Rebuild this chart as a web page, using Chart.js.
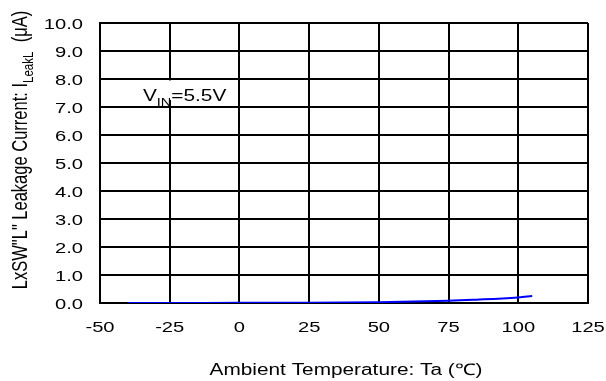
<!DOCTYPE html>
<html>
<head>
<meta charset="utf-8">
<script src="https://cdn.jsdelivr.net/npm/chart.js@4.4.0/dist/chart.umd.min.js"></script>
<style>
  html, body { margin: 0; padding: 0; background: #fff; }
  #wrap { width: 606px; height: 381px; position: relative; }
</style>
</head>
<body>
<div id="wrap"><canvas id="leak-chart"></canvas></div>
<script>
// temperature (°C) and leakage current (µA)
const temps = [-40, -25, 0, 25, 50, 75, 85, 100, 105];
const leakage = [0.0, 0.0, 0.005, 0.01, 0.03, 0.08, 0.12, 0.2, 0.25];
const xTicks = [-50, -25, 0, 25, 50, 75, 100, 125];
const yTicks = [0, 1, 2, 3, 4, 5, 6, 7, 8, 9, 10];

const FONT = "'Liberation Sans', Arial, sans-serif";
const WIDE = 1.3; // the source lettering is stretched sideways

// draws text with optional subscript parts: [[text, isSub], ...]
function drawParts(ctx, parts, x, y, size) {
  let cx = x;
  parts.forEach(([txt, sub]) => {
    ctx.font = (sub ? size * 0.7 : size) + 'px ' + FONT;
    ctx.fillText(txt, cx, sub ? y + size * 0.3 : y);
    cx += ctx.measureText(txt).width;
  });
}
function partsWidth(ctx, parts, size) {
  let w = 0;
  parts.forEach(([txt, sub]) => {
    ctx.font = (sub ? size * 0.7 : size) + 'px ' + FONT;
    w += ctx.measureText(txt).width;
  });
  return w;
}
// horizontal text, stretched, aligned around (x, y)
function wideText(ctx, parts, x, y, size, align) {
  const w = partsWidth(ctx, parts, size);
  let off = 0;
  if (align === 'center') off = -w / 2;
  if (align === 'right') off = -w;
  ctx.save();
  ctx.translate(x, y);
  ctx.scale(WIDE, 1);
  ctx.textAlign = 'left';
  drawParts(ctx, parts, off, 0, size);
  ctx.restore();
}

const labelsPlugin = {
  id: 'labels',
  afterDraw(chart) {
    const ctx = chart.ctx;
    const area = chart.chartArea;
    const sx = chart.scales.x, sy = chart.scales.y;
    ctx.save();
    ctx.fillStyle = '#000';
    ctx.textBaseline = 'alphabetic';

    // tick labels
    yTicks.forEach(v => wideText(ctx, [[v.toFixed(1), false]], 83, sy.getPixelForValue(v) + 6, 15.5, 'right'));
    xTicks.forEach(v => wideText(ctx, [[String(v), false]], sx.getPixelForValue(v), 332, 15.5, 'center'));

    // x axis title
    wideText(ctx, [['Ambient Temperature: Ta (\u2103)', false]], (area.left + area.right) / 2 + 2, 375, 16, 'center');

    // y axis title, rotated
    const yt = [['LxSW"L" Leakage Current: I', false], ['LeakL', true], ['  (\u03bcA)', false]];
    const yw = partsWidth(ctx, yt, 16.5);
    ctx.save();
    ctx.translate(27, 150);
    ctx.rotate(-Math.PI / 2);
    ctx.scale(1, WIDE);
    drawParts(ctx, yt, -yw / 2, 0, 16.5);
    ctx.restore();

    // condition note
    const note = [['V', false], ['IN', true], ['=5.5V', false]];
    const nx = sx.getPixelForValue(-34.6);
    const ny = sy.getPixelForValue(7.21);
    ctx.fillStyle = '#fff';
    ctx.fillRect(nx - 3, sy.getPixelForValue(7.95), partsWidth(ctx, note, 16) * WIDE + 4,
      sy.getPixelForValue(7.25) - sy.getPixelForValue(7.95));
    ctx.fillStyle = '#000';
    wideText(ctx, note, nx, ny, 16, 'left');
    ctx.restore();
  }
};

new Chart(document.getElementById('leak-chart').getContext('2d'), {
  type: 'scatter',
  data: {
    datasets: [{
      data: temps.map((t, i) => ({ x: t, y: leakage[i] })),
      showLine: true,
      borderColor: '#0000ff',
      borderWidth: 2,
      pointRadius: 0,
      tension: 0.4,
      fill: false
    }]
  },
  options: {
    responsive: true,
    maintainAspectRatio: false,
    animation: false,
    layout: { padding: { left: 0, right: 18, top: 23, bottom: 0 } },
    plugins: { legend: { display: false }, tooltip: { enabled: false } },
    scales: {
      x: {
        type: 'linear',
        min: -50,
        max: 125,
        afterBuildTicks: s => { s.ticks = xTicks.map(v => ({ value: v })); },
        afterFit: s => { s.height = 78; s.paddingLeft = 0; s.paddingRight = 0; },
        grid: { color: '#000', lineWidth: 2, drawTicks: false },
        border: { color: '#000', width: 2 },
        ticks: { display: false }
      },
      y: {
        min: 0,
        max: 10,
        afterBuildTicks: s => { s.ticks = yTicks.map(v => ({ value: v })); },
        afterFit: s => { s.width = 100; s.paddingTop = 0; s.paddingBottom = 0; },
        grid: { color: '#000', lineWidth: 2, drawTicks: false },
        border: { color: '#000', width: 2 },
        ticks: { display: false }
      }
    }
  },
  plugins: [labelsPlugin]
});
</script>
</body>
</html>
